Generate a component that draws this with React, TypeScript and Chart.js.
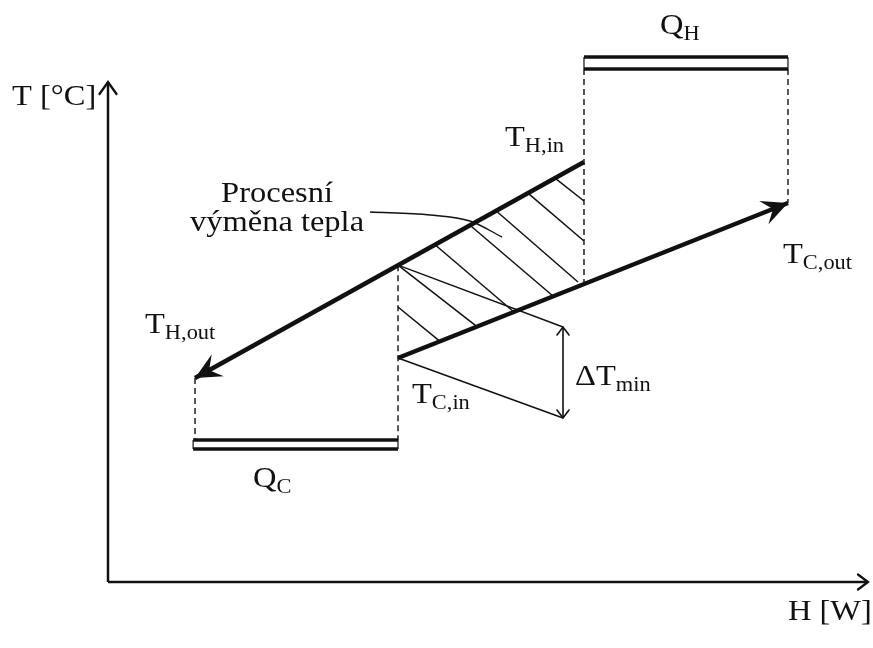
import React, { useEffect, useRef } from 'react';
import { Chart, registerables } from 'chart.js';

Chart.register(...registerables);

// ---- Data (H in relative units, T in relative units) ----
const axisX_H = [0, 100];
const axisX_T = [0, 0];
const axisY_H = [0, 0];
const axisY_T = [0, 100];

// Hot composite curve (T_H,in -> T_H,out)
const hotH = [62.63, 11.45];
const hotT = [84.0, 40.8];

// Cold composite curve (T_C,in -> T_C,out)
const coldH = [38.16, 89.47];
const coldT = [44.8, 75.8];

// Utility bars
const qhH = [62.63, 89.47];
const qhTop = 105.0;
const qhBottom = 102.6;
const qcH = [11.2, 38.16];
const qcTop = 28.4;
const qcBottom = 26.6;

// Dashed projection lines: [H, T_from, T_to]
const dashH = [11.45, 38.16, 62.63, 89.47];
const dashFrom = [40.8, 63.36, 102.6, 102.6];
const dashTo = [28.4, 28.4, 59.56, 75.8];

// Hatch lines inside the process heat exchange region
const hatchH0 = [58.82, 55.26, 51.05, 47.63, 43.03, 38.16, 38.16];
const hatchT0 = [80.78, 77.78, 74.24, 71.34, 67.46, 63.36, 55.0];
const hatchH1 = [62.63, 62.63, 61.84, 58.55, 53.42, 48.55, 43.68];
const hatchT1 = [76.2, 68.2, 60.0, 57.2, 54.0, 51.08, 48.14];

// Delta T min indicator
const dtH = 59.87;
const dtTop = 51.0;
const dtBottom = 32.8;
const dtLeaderFromT = [63.36, 44.8];
const dtLeaderFromH = 38.16;

// Annotation leader curve for "Procesní výměna tepla"
const leaderH = [34.47, 42.37, 47.63, 51.84];
const leaderT = [74.0, 73.4, 72.2, 69.0];

// Text labels
const labelText = ['T [°C]', 'T', 'Procesní', 'výměna tepla', 'T', 'T', 'T', 'ΔT', 'Q', 'Q', 'H [W]'];
const labelSub = ['', 'H,in', '', '', 'H,out', 'C,in', 'C,out', 'min', 'H', 'C', ''];
const labelH = [-12.63, 52.24, 22.24, 22.24, 4.87, 40.0, 88.82, 61.45, 72.63, 19.08, 89.47];
const labelT = [95.4, 87.2, 76.0, 70.2, 49.8, 35.8, 63.8, 39.4, 109.6, 19.0, -7.6];
const labelAlign = ['left', 'left', 'center', 'center', 'left', 'left', 'left', 'left', 'left', 'left', 'left'];

const FONT = '"Liberation Serif", "Times New Roman", serif';
const MAIN_SIZE = 29;
const SUB_SIZE = 20;
const STRETCH = 1.12;
const INK = '#111111';

function pts(hs: number[], ts: number[]) {
  return hs.map((h, i) => ({ x: h, y: ts[i] }));
}

function line(data: any[], extra: any = {}) {
  return {
    data,
    showLine: true,
    borderColor: INK,
    backgroundColor: INK,
    borderWidth: 1.5,
    pointRadius: 0,
    pointHoverRadius: 0,
    fill: false,
    tension: 0,
    clip: false,
    ...extra,
  };
}

const arrowPlugin = {
  id: 'arrowsAndLabels',
  afterDatasetsDraw(chart: any) {
    const ctx = chart.ctx as CanvasRenderingContext2D;
    const xs = chart.scales.x;
    const ys = chart.scales.y;
    const P = (h: number, t: number) => ({ x: xs.getPixelForValue(h), y: ys.getPixelForValue(t) });

    chart.data.datasets.forEach((ds: any) => {
      if (!ds.arrow) return;
      const d = ds.data;
      const ends: Array<[any, any]> = [];
      if (ds.arrow === 'end' || ds.arrow === 'both') ends.push([d[d.length - 1], d[d.length - 2]]);
      if (ds.arrow === 'both') ends.push([d[0], d[1]]);
      ends.forEach(([tipD, fromD]) => {
        const tip = P(tipD.x, tipD.y);
        const from = P(fromD.x, fromD.y);
        const dx = tip.x - from.x;
        const dy = tip.y - from.y;
        const L = Math.hypot(dx, dy);
        const ux = dx / L;
        const uy = dy / L;
        const nx = -uy;
        const ny = ux;
        const len = ds.arrowLen;
        const half = ds.arrowHalf;
        const b1 = { x: tip.x - ux * len + nx * half, y: tip.y - uy * len + ny * half };
        const b2 = { x: tip.x - ux * len - nx * half, y: tip.y - uy * len - ny * half };
        ctx.save();
        ctx.strokeStyle = INK;
        ctx.fillStyle = INK;
        if (ds.arrowFilled) {
          const notch = { x: tip.x - ux * len * 0.62, y: tip.y - uy * len * 0.62 };
          ctx.beginPath();
          ctx.moveTo(tip.x, tip.y);
          ctx.lineTo(b1.x, b1.y);
          ctx.lineTo(notch.x, notch.y);
          ctx.lineTo(b2.x, b2.y);
          ctx.closePath();
          ctx.fill();
        } else {
          ctx.lineWidth = ds.arrowWidth || 2;
          ctx.lineCap = 'round';
          ctx.lineJoin = 'miter';
          ctx.beginPath();
          ctx.moveTo(b1.x, b1.y);
          ctx.lineTo(tip.x, tip.y);
          ctx.lineTo(b2.x, b2.y);
          ctx.stroke();
        }
        ctx.restore();
      });
    });

    // labels
    ctx.save();
    ctx.fillStyle = INK;
    ctx.textBaseline = 'alphabetic';
    labelText.forEach((txt, i) => {
      const p = P(labelH[i], labelT[i]);
      ctx.save();
      ctx.translate(p.x, p.y);
      ctx.scale(STRETCH, 1);
      ctx.font = `${MAIN_SIZE}px ${FONT}`;
      ctx.textAlign = labelAlign[i] as CanvasTextAlign;
      ctx.fillText(txt, 0, 0);
      if (labelSub[i]) {
        const w = ctx.measureText(txt).width;
        ctx.font = `${SUB_SIZE}px ${FONT}`;
        ctx.textAlign = 'left';
        ctx.fillText(labelSub[i], w, 6);
      }
      ctx.restore();
    });
    ctx.restore();
  },
};

export default function App() {
  const ref = useRef<HTMLCanvasElement | null>(null);

  useEffect(() => {
    if (!ref.current) return;
    const datasets: any[] = [];

    // axes
    datasets.push(line(pts(axisX_H, axisX_T), { borderWidth: 2.5, arrow: 'end', arrowLen: 10, arrowHalf: 7.5, arrowWidth: 2.3 }));
    datasets.push(line(pts(axisY_H, axisY_T), { borderWidth: 2.5, arrow: 'end', arrowLen: 12, arrowHalf: 8.5, arrowWidth: 2.3 }));

    // utility bars
    datasets.push(line(pts(qhH, [qhTop, qhTop]), { borderWidth: 3.5 }));
    datasets.push(line(pts(qhH, [qhBottom, qhBottom]), { borderWidth: 3.5 }));
    datasets.push(line(pts([qhH[0], qhH[0]], [qhTop, qhBottom]), { borderWidth: 1.2 }));
    datasets.push(line(pts([qhH[1], qhH[1]], [qhTop, qhBottom]), { borderWidth: 1.2 }));
    datasets.push(line(pts(qcH, [qcTop, qcTop]), { borderWidth: 3.5 }));
    datasets.push(line(pts(qcH, [qcBottom, qcBottom]), { borderWidth: 3.5 }));
    datasets.push(line(pts([qcH[0], qcH[0]], [qcTop, qcBottom]), { borderWidth: 1.2 }));
    datasets.push(line(pts([qcH[1], qcH[1]], [qcTop, qcBottom]), { borderWidth: 1.2 }));

    // dashed projections
    dashH.forEach((h, i) => {
      datasets.push(line(pts([h, h], [dashFrom[i], dashTo[i]]), { borderWidth: 1.4, borderDash: [6, 4] }));
    });

    // hatch
    hatchH0.forEach((h, i) => {
      datasets.push(line(pts([h, hatchH1[i]], [hatchT0[i], hatchT1[i]]), { borderWidth: 1.5 }));
    });

    // delta T leaders and arrow
    datasets.push(line(pts([dtLeaderFromH, dtH], [dtLeaderFromT[0], dtTop]), { borderWidth: 1.4 }));
    datasets.push(line(pts([dtLeaderFromH, dtH], [dtLeaderFromT[1], dtBottom]), { borderWidth: 1.4 }));
    datasets.push(line(pts([dtH, dtH], [dtTop, dtBottom]), { borderWidth: 1.6, arrow: 'both', arrowLen: 8, arrowHalf: 6, arrowWidth: 1.6 }));

    // annotation leader curve
    datasets.push(line(pts(leaderH, leaderT), { borderWidth: 1.4, tension: 0.4, cubicInterpolationMode: 'monotone' }));

    // composite curves
    datasets.push(line(pts(hotH, hotT), { borderWidth: 4.5, arrow: 'end', arrowFilled: true, arrowLen: 26, arrowHalf: 12.5 }));
    datasets.push(line(pts(coldH, coldT), { borderWidth: 4.5, arrow: 'end', arrowFilled: true, arrowLen: 26, arrowHalf: 12.5 }));

    const chart = new Chart(ref.current, {
      type: 'scatter',
      data: { datasets },
      options: {
        responsive: false,
        animation: false,
        devicePixelRatio: 1,
        layout: { padding: { left: 108, right: 5, top: 82, bottom: 66 } },
        scales: {
          x: { type: 'linear', min: 0, max: 100, display: false },
          y: { type: 'linear', min: 0, max: 100, display: false },
        },
        plugins: {
          legend: { display: false },
          tooltip: { enabled: false },
        },
        events: [],
      } as any,
      plugins: [arrowPlugin],
    });
    return () => chart.destroy();
  }, []);

  return (
    <div style={{ position: 'fixed', left: 0, top: 0, width: 873, height: 648, background: '#ffffff' }}>
      <canvas ref={ref} width={873} height={648} style={{ width: 873, height: 648, display: 'block' }} />
    </div>
  );
}
